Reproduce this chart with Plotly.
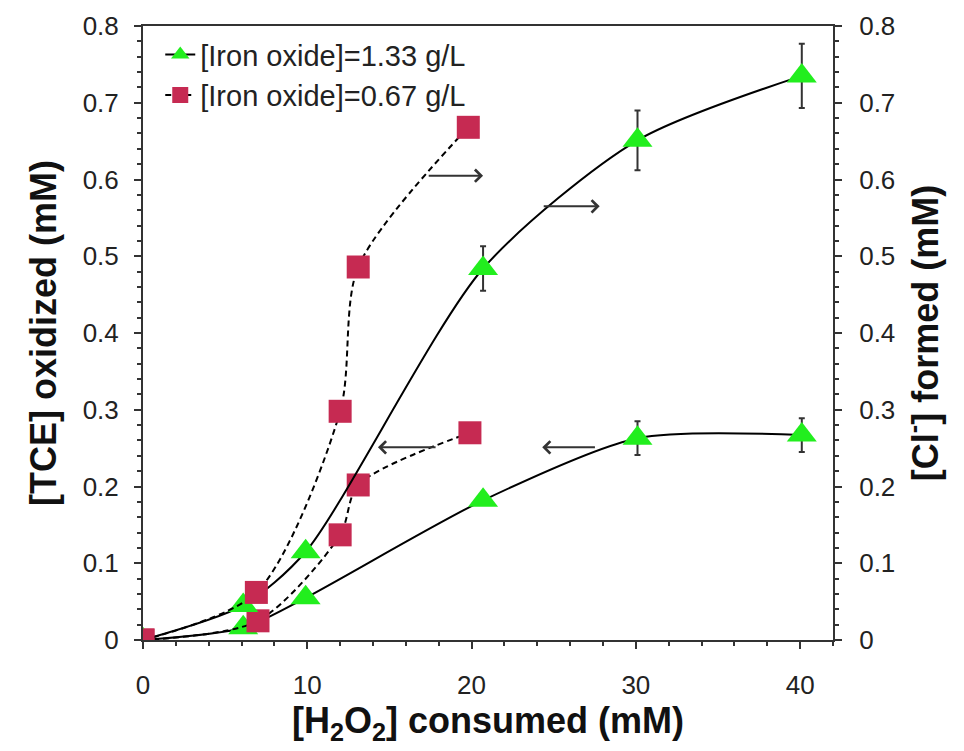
import plotly.graph_objects as go

# ---- data ----
x_g = [0, 6.1, 9.9, 20.7, 30.1, 40.1]
cl_g = [0, 0.045, 0.115, 0.484, 0.651, 0.735]
cl_g_err = [0, 0, 0, 0.029, 0.039, 0.042]
tce_g = [0, 0.016, 0.055, 0.182, 0.263, 0.267]
tce_g_err = [0, 0, 0, 0, 0.022, 0.022]

x_r_cl = [0, 6.9, 12.0, 13.1, 19.8]
cl_r = [0, 0.062, 0.298, 0.486, 0.668]
x_r_tce = [0, 7.0, 12.0, 13.1, 19.9]
tce_r = [0, 0.025, 0.137, 0.202, 0.27]

# arrows: (tail_x, tip_x, y)
arrow_tail_x = [17.3, 24.3, 17.9, 27.6]
arrow_tip_x = [20.7, 27.8, 14.3, 24.3]
arrow_y = [0.605, 0.565, 0.251, 0.251]

y_ticks = [0, 0.1, 0.2, 0.3, 0.4, 0.5, 0.6, 0.7, 0.8]
x_ticks = [0, 10, 20, 30, 40]

GREEN = "#22ee1e"
RED = "#c62a52"
FONT = "Liberation Sans, Arial, Helvetica, sans-serif"

fig = go.Figure()

def err(vals):
    return dict(type="data", array=vals, visible=True, color="#333333",
                thickness=2, width=3)

# green lower (TCE)
fig.add_trace(go.Scatter(
    x=x_g, y=tce_g, mode="lines+markers", showlegend=False,
    line=dict(color="black", width=2, shape="spline", smoothing=0.75),
    marker=dict(symbol="triangle-up", size=26, color=GREEN),
    error_y=err(tce_g_err)))
# green upper (Cl-)
fig.add_trace(go.Scatter(
    x=x_g, y=cl_g, mode="lines+markers", name="[Iron oxide]=1.33 g/L",
    yaxis="y2",
    line=dict(color="black", width=2, shape="spline", smoothing=0.75),
    marker=dict(symbol="triangle-up", size=26, color=GREEN),
    error_y=err(cl_g_err)))
# red lower
fig.add_trace(go.Scatter(
    x=x_r_tce, y=tce_r, mode="lines+markers", showlegend=False,
    line=dict(color="black", width=2, dash="6px,4px", shape="spline", smoothing=0.8),
    marker=dict(symbol="square", size=23, color=RED)))
# red upper
fig.add_trace(go.Scatter(
    x=x_r_cl, y=cl_r, mode="lines+markers", name="[Iron oxide]=0.67 g/L",
    yaxis="y2",
    line=dict(color="black", width=2, dash="6px,4px", shape="spline", smoothing=0.8),
    marker=dict(symbol="square", size=23, color=RED)))

for tx, hx, yy in zip(arrow_tail_x, arrow_tip_x, arrow_y):
    fig.add_annotation(x=hx, y=yy, ax=tx, ay=yy, xref="x", yref="y",
                       axref="x", ayref="y", showarrow=True, text="",
                       arrowhead=4, arrowsize=1.2, arrowwidth=2,
                       arrowcolor="#333333")

axis_common = dict(
    showline=True, linecolor="#333333", linewidth=2,
    ticks="outside", ticklen=7, tickwidth=2, tickcolor="#333333",
    showgrid=False, zeroline=False,
    tickfont=dict(family=FONT, size=26, color="#222222"),
)
minor_common = dict(ticks="outside", ticklen=4, tickwidth=1.5, tickcolor="#333333")

fig.update_layout(
    width=964, height=751,
    margin=dict(l=143, r=131, t=26, b=111),
    paper_bgcolor="white", plot_bgcolor="white",
    font=dict(family=FONT, color="#111111"),
    xaxis=dict(range=[0, 42], tickvals=x_ticks, mirror=True,
               ticklabelstandoff=14,
               minor=dict(dtick=2, **minor_common),
               title=dict(text="<b>[H<sub>2</sub>O<sub>2</sub>] consumed (mM)</b>",
                          font=dict(family=FONT, size=36, color="#111111"),
                          standoff=0),
               **axis_common),
    yaxis=dict(range=[0, 0.8], tickvals=y_ticks, ticklabelstandoff=10,
               minor=dict(dtick=0.02, **minor_common),
               title=dict(text="<b>[TCE] oxidized (mM)</b>",
                          font=dict(family=FONT, size=36, color="#111111"),
                          standoff=15),
               **axis_common),
    yaxis2=dict(range=[0, 0.8], tickvals=y_ticks, overlaying="y", side="right",
                ticklabelstandoff=12,
                minor=dict(dtick=0.02, **minor_common),
                title=dict(text="<b>[Cl<sup>-</sup>] formed (mM)</b>",
                           font=dict(family=FONT, size=36, color="#111111"),
                           standoff=18),
                **axis_common),
    legend=dict(x=0.025, y=0.995, xanchor="left", yanchor="top",
                bgcolor="rgba(0,0,0,0)",
                font=dict(family=FONT, size=29, color="#222222")),
)

fig.write_html("out.html")
